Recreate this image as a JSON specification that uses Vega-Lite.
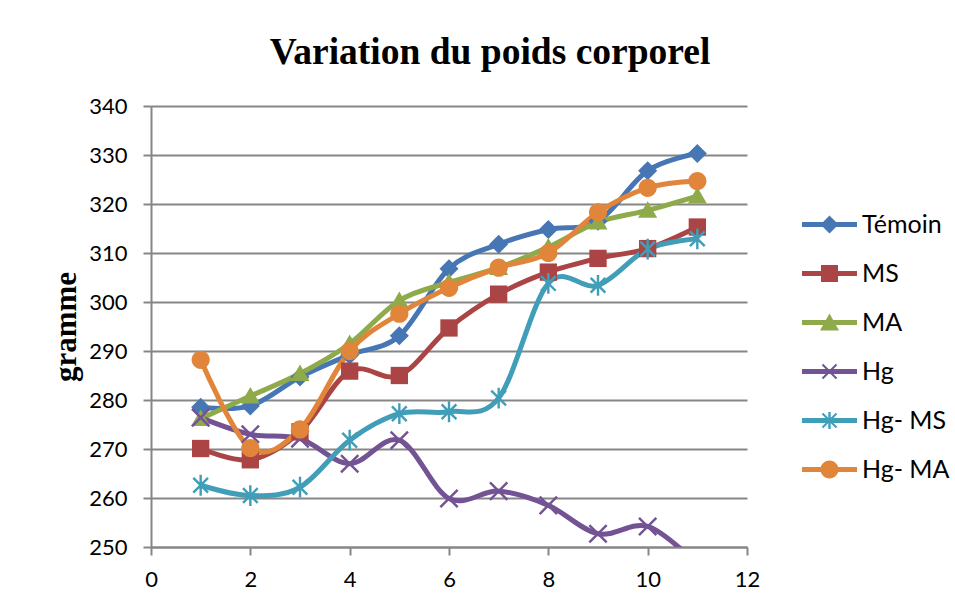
{
  "$schema": "https://vega.github.io/schema/vega-lite/v6.json",
  "width": 596,
  "height": 441,
  "autosize": "none",
  "padding": {"left": 151, "top": 106, "right": 208, "bottom": 59},
  "background": "white",
  "config": {"view": {"stroke": null}, "font": "Lato"},
  "title": {
    "text": "Variation du poids corporel",
    "font": "Liberation Serif",
    "fontSize": 37.5,
    "fontWeight": "bold",
    "color": "black",
    "anchor": "middle",
    "baseline": "alphabetic",
    "offset": 30,
    "dy": 36,
    "dx": 41
  },
  "data": {
    "values": [
      {"x": 1, "series": "Témoin", "v": 278.5}, {"x": 2, "series": "Témoin", "v": 278.8}, {"x": 3, "series": "Témoin", "v": 284.7}, {"x": 4, "series": "Témoin", "v": 289.2}, {"x": 5, "series": "Témoin", "v": 293.1}, {"x": 6, "series": "Témoin", "v": 306.8}, {"x": 7, "series": "Témoin", "v": 311.8}, {"x": 8, "series": "Témoin", "v": 314.8}, {"x": 9, "series": "Témoin", "v": 316.5}, {"x": 10, "series": "Témoin", "v": 326.8}, {"x": 11, "series": "Témoin", "v": 330.3},
      {"x": 1, "series": "MS", "v": 270.1}, {"x": 2, "series": "MS", "v": 267.8}, {"x": 3, "series": "MS", "v": 273.5}, {"x": 4, "series": "MS", "v": 285.9}, {"x": 5, "series": "MS", "v": 285.0}, {"x": 6, "series": "MS", "v": 294.7}, {"x": 7, "series": "MS", "v": 301.6}, {"x": 8, "series": "MS", "v": 306.1}, {"x": 9, "series": "MS", "v": 308.9}, {"x": 10, "series": "MS", "v": 310.9}, {"x": 11, "series": "MS", "v": 315.3},
      {"x": 1, "series": "MA", "v": 276.2}, {"x": 2, "series": "MA", "v": 280.8}, {"x": 3, "series": "MA", "v": 285.4}, {"x": 4, "series": "MA", "v": 291.5}, {"x": 5, "series": "MA", "v": 300.3}, {"x": 6, "series": "MA", "v": 304.0}, {"x": 7, "series": "MA", "v": 307.0}, {"x": 8, "series": "MA", "v": 311.2}, {"x": 9, "series": "MA", "v": 316.3}, {"x": 10, "series": "MA", "v": 318.7}, {"x": 11, "series": "MA", "v": 321.6},
      {"x": 1, "series": "Hg", "v": 276.4}, {"x": 2, "series": "Hg", "v": 273.0}, {"x": 3, "series": "Hg", "v": 272.1}, {"x": 4, "series": "Hg", "v": 267.0}, {"x": 5, "series": "Hg", "v": 271.8}, {"x": 6, "series": "Hg", "v": 259.9}, {"x": 7, "series": "Hg", "v": 261.4}, {"x": 8, "series": "Hg", "v": 258.5}, {"x": 9, "series": "Hg", "v": 252.7}, {"x": 10, "series": "Hg", "v": 254.2}, {"x": 11, "series": "Hg", "v": 246.5},
      {"x": 1, "series": "Hg- MS", "v": 262.6}, {"x": 2, "series": "Hg- MS", "v": 260.5}, {"x": 3, "series": "Hg- MS", "v": 262.2}, {"x": 4, "series": "Hg- MS", "v": 271.8}, {"x": 5, "series": "Hg- MS", "v": 277.2}, {"x": 6, "series": "Hg- MS", "v": 277.6}, {"x": 7, "series": "Hg- MS", "v": 280.4}, {"x": 8, "series": "Hg- MS", "v": 303.8}, {"x": 9, "series": "Hg- MS", "v": 303.4}, {"x": 10, "series": "Hg- MS", "v": 310.8}, {"x": 11, "series": "Hg- MS", "v": 312.9},
      {"x": 1, "series": "Hg- MA", "v": 288.2}, {"x": 2, "series": "Hg- MA", "v": 270.2}, {"x": 3, "series": "Hg- MA", "v": 274.0}, {"x": 4, "series": "Hg- MA", "v": 290.0}, {"x": 5, "series": "Hg- MA", "v": 297.6}, {"x": 6, "series": "Hg- MA", "v": 302.9}, {"x": 7, "series": "Hg- MA", "v": 307.0}, {"x": 8, "series": "Hg- MA", "v": 310.0}, {"x": 9, "series": "Hg- MA", "v": 318.3}, {"x": 10, "series": "Hg- MA", "v": 323.3}, {"x": 11, "series": "Hg- MA", "v": 324.7}
    ]
  },
  "encoding": {
    "x": {
      "field": "x", "type": "quantitative",
      "scale": {"domain": [0, 12], "nice": false, "zero": false},
      "axis": {
        "title": null, "values": [0, 2, 4, 6, 8, 10, 12], "grid": false,
        "domainColor": "#868686", "domainWidth": 2, "tickColor": "#868686", "tickWidth": 2, "tickSize": 8,
        "labelFont": "Lato", "labelFontSize": 22, "labelColor": "black", "labelPadding": 14, "labelFlush": false
      }
    },
    "y": {
      "field": "v", "type": "quantitative",
      "scale": {"domain": [250, 340], "nice": false, "zero": false},
      "axis": {
        "values": [250, 260, 270, 280, 290, 300, 310, 320, 330, 340],
        "grid": true, "gridColor": "#868686", "gridWidth": 2,
        "domainColor": "#868686", "domainWidth": 2, "tickColor": "#868686", "tickWidth": 2, "tickSize": 8,
        "labelFont": "Lato", "labelFontSize": 22, "labelColor": "black", "labelPadding": 16,
        "title": "gramme", "titleFont": "Liberation Serif", "titleFontSize": 31, "titleFontWeight": "bold", "titleColor": "black",
        "titleAngle": 270, "titleBaseline": "alphabetic", "titleAlign": "center", "titleX": -76, "titleY": 220.5
      }
    }
  },
  "resolve": {"scale": {"color": "independent", "shape": "independent"}, "legend": {"color": "independent", "shape": "independent"}},
  "layer": [
    {
      "mark": {"type": "line", "interpolate": "cardinal", "tension": 0, "strokeWidth": 5, "clip": true},
      "encoding": {
        "color": {"field": "series", "type": "nominal", "legend": null,
          "scale": {"domain": ["Témoin", "MS", "MA", "Hg", "Hg- MS", "Hg- MA"],
                    "range": ["#4776B4", "#AB4545", "#8EAA4B", "#735394", "#409EB8", "#E08539"]}},
        "detail": {"field": "series"}
      }
    },
    {
      "mark": {"type": "point", "filled": true, "size": 300, "opacity": 1, "clip": true},
      "encoding": {
        "color": {"field": "series", "type": "nominal", "legend": null,
          "scale": {"domain": ["Témoin", "MS", "MA", "Hg", "Hg- MS", "Hg- MA"],
                    "range": ["#4776B4", "#AB4545", "#8EAA4B", "#735394", "#409EB8", "#E08539"]}},
        "shape": {"field": "series", "type": "nominal", "legend": null,
          "scale": {"domain": ["Témoin", "MS", "MA", "Hg", "Hg- MS", "Hg- MA"],
                    "range": [
                      "M0,-1.1L1.1,0L0,1.1L-1.1,0Z",
                      "M-1,-1H1V1H-1Z",
                      "M0,-1.05L1.1,0.85H-1.1Z",
                      "M-0.9,-1.1L1.1,0.9L0.9,1.1L-1.1,-0.9ZM0.9,-1.1L1.1,-0.9L-0.9,1.1L-1.1,0.9Z",
                      "M-0.75,-0.95L0.95,0.75L0.75,0.95L-0.95,-0.75ZM0.75,-0.95L0.95,-0.75L-0.75,0.95L-0.95,0.75ZM-0.14,-1.2H0.14V1.2H-0.14Z",
                      "M1.05,0A1.05,1.05,0,1,1,-1.05,0A1.05,1.05,0,1,1,1.05,0Z"
                    ]}}
      }
    },
    {
      "transform": [{"filter": "false"}],
      "mark": {"type": "point", "filled": true, "opacity": 1},
      "encoding": {
        "color": {"field": "series", "type": "nominal",
          "scale": {"domain": ["Témoin", "MS", "MA", "Hg", "Hg- MS", "Hg- MA"],
                    "range": ["#4776B4", "#AB4545", "#8EAA4B", "#735394", "#409EB8", "#E08539"]},
          "legend": {
            "title": null, "orient": "none", "legendX": 666, "legendY": 106, "padding": 0,
            "symbolSize": 400, "symbolOpacity": 1, "labelOffset": 20, "rowPadding": 23,
            "labelFont": "Lato", "labelFontSize": 25, "labelColor": "black", "labelLimit": 200
          }
        },
        "shape": {"field": "series", "type": "nominal",
          "scale": {"domain": ["Témoin", "MS", "MA", "Hg", "Hg- MS", "Hg- MA"],
                    "range": [
                      "M-2.75,-0.25H2.75V0.25H-2.75ZM0,-0.9L0.9,0L0,0.9L-0.9,0Z",
                      "M-2.75,-0.25H2.75V0.25H-2.75ZM-0.85,-0.85H0.85V0.85H-0.85Z",
                      "M-2.75,-0.25H2.75V0.25H-2.75ZM0,-0.9L0.95,0.8H-0.95Z",
                      "M-2.75,-0.25H2.75V0.25H-2.75ZM-0.63,-0.77L0.77,0.63L0.63,0.77L-0.77,-0.63ZM0.63,-0.77L0.77,-0.63L-0.63,0.77L-0.77,0.63Z",
                      "M-2.75,-0.25H2.75V0.25H-2.75ZM-0.63,-0.77L0.77,0.63L0.63,0.77L-0.77,-0.63ZM0.63,-0.77L0.77,-0.63L-0.63,0.77L-0.77,0.63ZM-0.12,-0.85H0.12V0.85H-0.12Z",
                      "M-2.75,-0.25H2.75V0.25H-2.75ZM0.9,0A0.9,0.9,0,1,1,-0.9,0A0.9,0.9,0,1,1,0.9,0Z"
                    ]},
          "legend": {
            "title": null, "orient": "none", "legendX": 666, "legendY": 106, "padding": 0,
            "symbolSize": 400, "symbolOpacity": 1, "labelOffset": 20, "rowPadding": 23,
            "labelFont": "Lato", "labelFontSize": 25, "labelColor": "black", "labelLimit": 200
          }
        }
      }
    }
  ]
}
